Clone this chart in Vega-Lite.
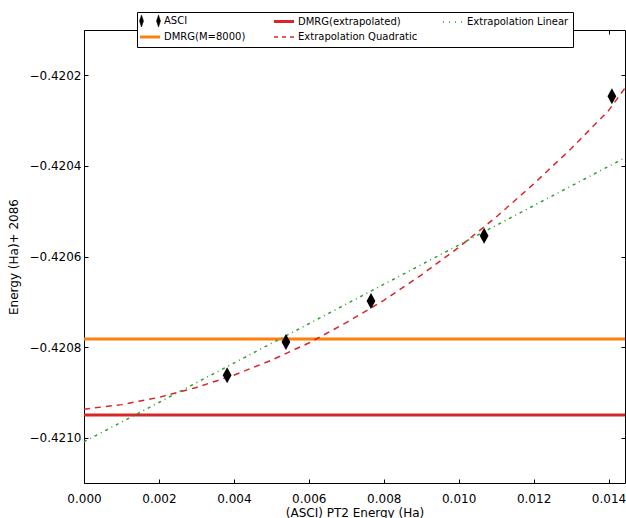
{
  "$schema": "https://vega.github.io/schema/vega-lite/v6.json",
  "width": 541,
  "height": 453,
  "autosize": {"type": "none"},
  "padding": {"left": 84, "top": 30, "right": 1, "bottom": 35},
  "background": "white",
  "config": {
    "view": {"stroke": "black", "strokeWidth": 1},
    "font": "DejaVu Sans",
    "axis": {
      "domain": false, "grid": false, "tickColor": "black", "tickSize": -4, "tickWidth": 1, "labelFlush": false,
      "labelFont": "DejaVu Sans", "labelFontSize": 12, "labelColor": "black",
      "titleFont": "DejaVu Sans", "titleFontSize": 12, "titleFontWeight": "normal", "titleColor": "black"
    }
  },
  "data": {
    "values": [
      {"series": "ASCI", "x": 0.00382, "y": -0.420862},
      {"series": "ASCI", "x": 0.00539, "y": -0.420789},
      {"series": "ASCI", "x": 0.00766, "y": -0.420698},
      {"series": "ASCI", "x": 0.01068, "y": -0.420554},
      {"series": "ASCI", "x": 0.01409, "y": -0.420246},
      {"series": "DMRG(M=8000)", "y": -0.420782},
      {"series": "DMRG(extrapolated)", "y": -0.420950},
      {"series": "Extrapolation Linear", "x": 0.0, "y": -0.421009},
      {"series": "Extrapolation Linear", "x": 0.01444, "y": -0.420382},
      {"series": "Extrapolation Quadratic", "x": 0.0, "y": -0.420937},
      {"series": "Extrapolation Quadratic", "x": 0.001, "y": -0.420927},
      {"series": "Extrapolation Quadratic", "x": 0.002, "y": -0.420911},
      {"series": "Extrapolation Quadratic", "x": 0.003, "y": -0.420889},
      {"series": "Extrapolation Quadratic", "x": 0.004, "y": -0.420862},
      {"series": "Extrapolation Quadratic", "x": 0.005, "y": -0.420829},
      {"series": "Extrapolation Quadratic", "x": 0.006, "y": -0.420791},
      {"series": "Extrapolation Quadratic", "x": 0.007, "y": -0.420746},
      {"series": "Extrapolation Quadratic", "x": 0.008, "y": -0.420697},
      {"series": "Extrapolation Quadratic", "x": 0.009, "y": -0.420641},
      {"series": "Extrapolation Quadratic", "x": 0.010, "y": -0.420580},
      {"series": "Extrapolation Quadratic", "x": 0.011, "y": -0.420513},
      {"series": "Extrapolation Quadratic", "x": 0.012, "y": -0.420440},
      {"series": "Extrapolation Quadratic", "x": 0.013, "y": -0.420362},
      {"series": "Extrapolation Quadratic", "x": 0.014, "y": -0.420278},
      {"series": "Extrapolation Quadratic", "x": 0.01444, "y": -0.420228}
    ]
  },
  "encoding": {
    "color": {
      "field": "series", "type": "nominal",
      "scale": {
        "domain": ["ASCI", "DMRG(extrapolated)", "Extrapolation Linear", "DMRG(M=8000)", "Extrapolation Quadratic"],
        "range": ["black", "#d62728", "#2ca02c", "#ff7f0e", "#d62728"]
      },
      "legend": {
        "title": null, "orient": "none", "legendX": 53, "legendY": -18,
        "columns": 3, "direction": "horizontal",
        "symbolSize": 100, "labelOffset": 13, "columnPadding": 22, "rowPadding": 3, "padding": 4,
        "strokeColor": "black", "fillColor": "white", "cornerRadius": 0,
        "labelFont": "DejaVu Sans", "labelFontSize": 10, "labelColor": "black", "labelLimit": 300,
        "encode": {
          "symbols": {
            "update": {
              "shape": {"signal": "datum.value === 'ASCI' ? 'M-1.3,0L-0.9,-1.2L-0.5,0L-0.9,1.2Z M2.1,0L2.5,-1.2L2.9,0L2.5,1.2Z' : 'M-1.2,0L2.8,0'"},
              "fill": {"signal": "datum.value === 'ASCI' ? 'black' : 'transparent'"},
              "stroke": {"scale": "color", "field": "value"},
              "strokeWidth": {"signal": "datum.value === 'DMRG(M=8000)' || datum.value === 'DMRG(extrapolated)' ? 3 : (datum.value === 'ASCI' ? 0.5 : 1.5)"},
              "strokeDash": {"signal": "datum.value === 'Extrapolation Quadratic' ? [4, 4] : (datum.value === 'Extrapolation Linear' ? [1, 5] : [])"},
              "opacity": {"value": 1}
            }
          }
        }
      }
    }
  },
  "resolve": {"axis": {"x": "independent", "y": "independent"}},
  "layer": [
    {
      "transform": [{"filter": "datum.series === 'DMRG(M=8000)' || datum.series === 'DMRG(extrapolated)'"}],
      "mark": {"type": "rule", "strokeWidth": 3},
      "encoding": {
        "y": {
          "field": "y", "type": "quantitative",
          "scale": {"domain": [-0.4211, -0.4201], "nice": false, "zero": false},
          "axis": {
            "title": "Energy (Ha)+ 2086", "format": ".4f",
            "values": [-0.4210, -0.4208, -0.4206, -0.4204, -0.4202],
            "labelPadding": 7, "titlePadding": 8
          }
        }
      }
    },
    {
      "transform": [{"filter": "datum.series === 'Extrapolation Quadratic'"}],
      "mark": {"type": "line", "strokeWidth": 1.5, "strokeDash": [6, 5]},
      "encoding": {
        "x": {
          "field": "x", "type": "quantitative",
          "scale": {"domain": [0, 0.01444], "nice": false, "zero": false},
          "axis": {
            "title": "(ASCI) PT2 Energy (Ha)", "format": ".3f",
            "values": [0, 0.002, 0.004, 0.006, 0.008, 0.010, 0.012, 0.014],
            "labelPadding": 14, "titlePadding": 3
          }
        },
        "y": {
          "field": "y", "type": "quantitative",
          "scale": {"domain": [-0.4211, -0.4201], "nice": false, "zero": false},
          "axis": null
        }
      }
    },
    {
      "transform": [{"filter": "datum.series === 'Extrapolation Linear'"}],
      "mark": {"type": "line", "strokeWidth": 1.5, "strokeDash": [3, 4, 1, 4]},
      "encoding": {
        "x": {
          "field": "x", "type": "quantitative",
          "scale": {"domain": [0, 0.01444], "nice": false, "zero": false},
          "axis": {
            "orient": "top", "title": null, "labels": false,
            "values": [0, 0.002, 0.004, 0.006, 0.008, 0.010, 0.012, 0.014]
          }
        },
        "y": {
          "field": "y", "type": "quantitative",
          "scale": {"domain": [-0.4211, -0.4201], "nice": false, "zero": false},
          "axis": {
            "orient": "right", "title": null, "labels": false,
            "values": [-0.4210, -0.4208, -0.4206, -0.4204, -0.4202]
          }
        }
      }
    },
    {
      "transform": [{"filter": "datum.series === 'ASCI'"}],
      "mark": {"type": "point", "filled": true, "opacity": 1, "size": 256, "shape": "M0,-1L0.55,0L0,1L-0.55,0Z"},
      "encoding": {
        "x": {
          "field": "x", "type": "quantitative",
          "scale": {"domain": [0, 0.01444], "nice": false, "zero": false},
          "axis": null
        },
        "y": {
          "field": "y", "type": "quantitative",
          "scale": {"domain": [-0.4211, -0.4201], "nice": false, "zero": false},
          "axis": null
        }
      }
    }
  ]
}
